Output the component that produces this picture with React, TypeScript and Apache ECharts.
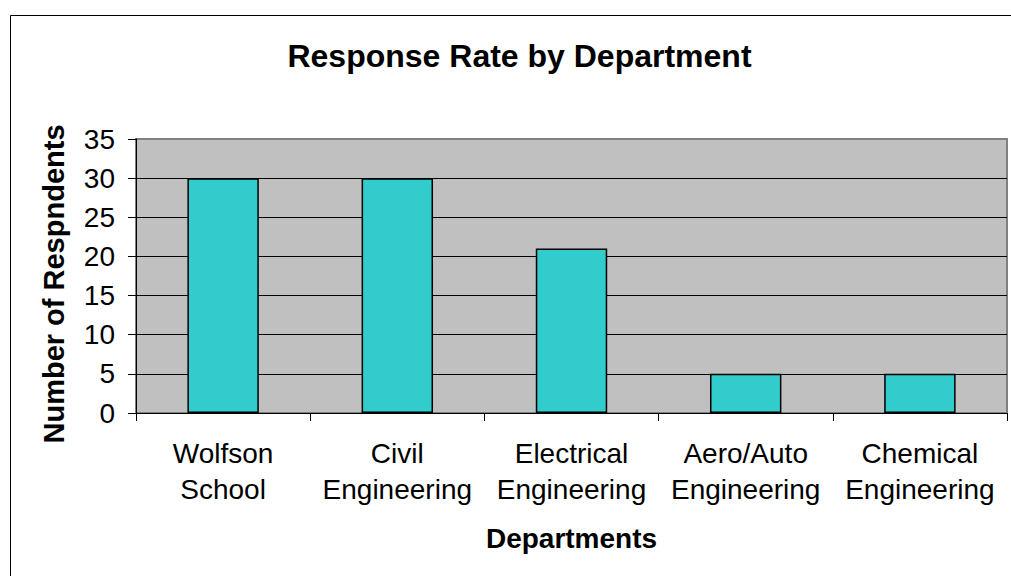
import React, { useEffect, useRef } from "react";
import * as echarts from "echarts";

const categories = [
  "Wolfson School",
  "Civil Engineering",
  "Electrical Engineering",
  "Aero/Auto Engineering",
  "Chemical Engineering",
];
const respondents = [30, 30, 21, 5, 5];
const titleText = "Response Rate by Department";
const xAxisName = "Departments";
const yAxisName = "Number of Respndents";

const FONT = "'Liberation Sans', Arial, Helvetica, sans-serif";

export default function App() {
  const ref = useRef<HTMLDivElement>(null);
  useEffect(() => {
    if (!ref.current) return;
    const chart = echarts.init(ref.current, null, { renderer: "svg" });
    chart.setOption({
      animation: false,
      backgroundColor: "#ffffff",
      grid: {
        show: true,
        left: 136,
        top: 139,
        right: 4,
        bottom: 163,
        backgroundColor: "#C0C0C0",
        borderColor: "#808080",
        borderWidth: 2,
      },
      xAxis: {
        type: "category",
        data: categories,
        boundaryGap: true,
        axisLine: { show: true, lineStyle: { color: "#000", width: 1 } },
        axisTick: { show: true, length: 8, lineStyle: { color: "#000", width: 1 } },
        axisLabel: {
          interval: 0,
          margin: 22,
          fontSize: 28,
          lineHeight: 36,
          color: "#000",
          fontFamily: FONT,
          formatter: (v: string) => v.replace(" ", "\n"),
        },
        splitLine: { show: false },
      },
      yAxis: {
        type: "value",
        min: 0,
        max: 35,
        interval: 5,
        axisLine: { show: true, lineStyle: { color: "#000", width: 1 } },
        axisTick: { show: true, length: 8, lineStyle: { color: "#000", width: 1 } },
        axisLabel: {
          margin: 21,
          fontSize: 28,
          color: "#000",
          fontFamily: FONT,
        },
        splitLine: {
          show: true,
          showMaxLine: false,
          lineStyle: { color: "#000", width: 1 },
        },
      },
      series: [
        {
          type: "bar",
          data: respondents,
          barWidth: "41%",
          itemStyle: {
            color: "#33CCCC",
            borderColor: "#000",
            borderWidth: 1.5,
          },
        },
      ],
      graphic: [
        {
          type: "rect",
          z: 0,
          silent: true,
          shape: { x: 10.5, y: 15.5, width: 1100, height: 700 },
          style: { fill: "none", stroke: "#000", lineWidth: 1 },
        },
        {
          type: "text",
          x: 519.5,
          y: 56,
          style: {
            text: titleText,
            fontSize: 32,
            fontWeight: "bold",
            fontFamily: FONT,
            fill: "#000",
            align: "center",
            verticalAlign: "middle",
          },
        },
        {
          type: "text",
          x: 54,
          y: 284,
          rotation: Math.PI / 2,
          style: {
            text: yAxisName,
            fontSize: 29,
            fontWeight: "bold",
            fontFamily: FONT,
            fill: "#000",
            align: "center",
            verticalAlign: "middle",
          },
        },
        {
          type: "text",
          x: 571.5,
          y: 538,
          style: {
            text: xAxisName,
            fontSize: 28,
            fontWeight: "bold",
            fontFamily: FONT,
            fill: "#000",
            align: "center",
            verticalAlign: "middle",
          },
        },
      ],
    });
    return () => chart.dispose();
  }, []);
  return (
    <div
      ref={ref}
      style={{ position: "fixed", left: 0, top: 0, width: 1011, height: 576 }}
    />
  );
}
